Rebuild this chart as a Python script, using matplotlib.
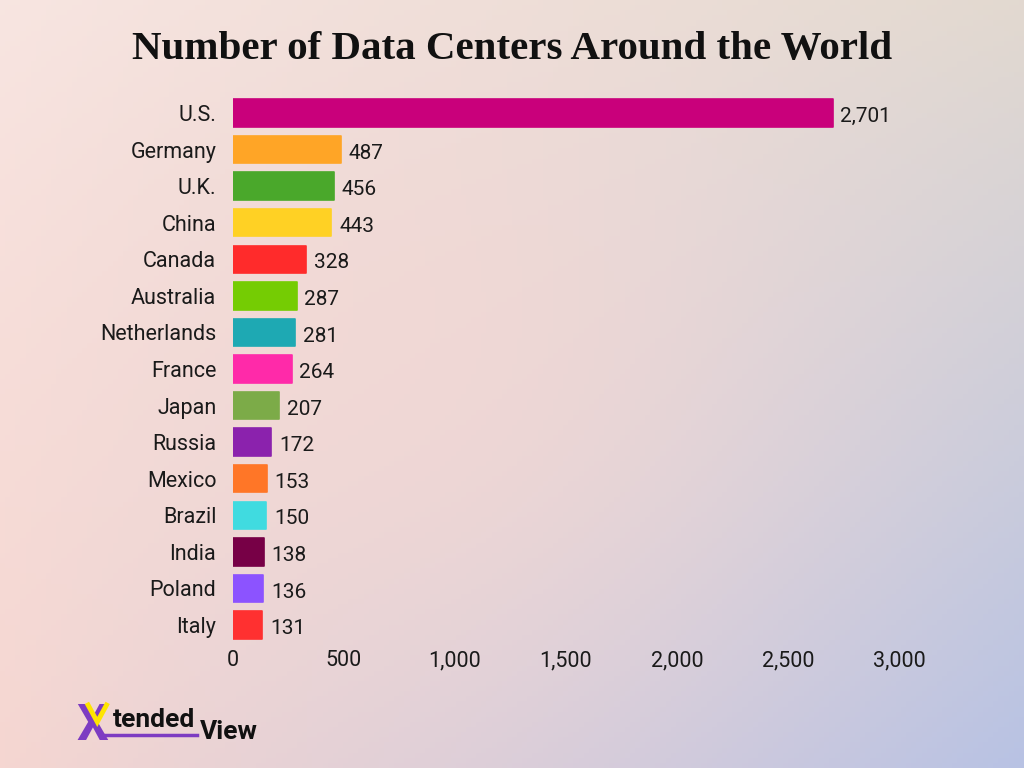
import numpy as np
import matplotlib.pyplot as plt
from matplotlib.colors import to_rgb
from matplotlib.ticker import FuncFormatter

# data
countries = ['U.S.', 'Germany', 'U.K.', 'China', 'Canada', 'Australia', 'Netherlands',
             'France', 'Japan', 'Russia', 'Mexico', 'Brazil', 'India', 'Poland', 'Italy']
centers = [2701, 487, 456, 443, 328, 287, 281, 264, 207, 172, 153, 150, 138, 136, 131]
bar_colors = ['#c9007b', '#ffa526', '#4aa82b', '#ffd124', '#ff2b2b', '#75cc03', '#1ea9b3',
              '#ff2aa9', '#7cab48', '#8b22ad', '#ff7627', '#40dbe0', '#770046', '#8c53ff', '#ff3030']
x_ticks = [0, 500, 1000, 1500, 2000, 2500, 3000]

plt.rcParams['font.family'] = ['Roboto', 'DejaVu Sans']

fig = plt.figure(figsize=(10.24, 7.68), dpi=100)

# soft gradient background (corner colours)
bg = fig.add_axes([0, 0, 1, 1], zorder=-10)
tl, tr = np.array(to_rgb('#f8e6e2')), np.array(to_rgb('#e2d9d0'))
bl, br = np.array(to_rgb('#f5d6d1')), np.array(to_rgb('#b7c2e4'))
u = np.linspace(0, 1, 200)[None, :, None]
v = np.linspace(0, 1, 150)[:, None, None]
top = tl * (1 - u) + tr * u
bottom = bl * (1 - u) + br * u
grad = top * (1 - v) + bottom * v
mid = np.array(to_rgb('#f7d8d2'))
w = np.exp(-(((u - 0.42) / 0.38) ** 2 + ((v - 0.5) / 0.45) ** 2))
grad = grad * (1 - 0.6 * w) + mid * 0.6 * w
bg.imshow(grad, aspect='auto', extent=[0, 1, 0, 1])
bg.axis('off')
bg.set_xlim(0, 1)
bg.set_ylim(0, 1)

ax = fig.add_axes([0.2275, 0.1624, 0.6504, 0.7143])
ax.patch.set_alpha(0)
y = np.arange(len(countries))
ax.barh(y, centers, height=0.75, color=bar_colors, edgecolor=bar_colors,
        linewidth=1.2, joinstyle='round')
ax.set_ylim(len(countries) - 0.5, -0.5)
ax.set_xlim(0, 3000)
ax.set_yticks(y)
ax.set_yticklabels(countries, fontsize=15.5, color='#1a1a1a')
ax.set_xticks(x_ticks)
ax.xaxis.set_major_formatter(FuncFormatter(lambda val, pos: f'{int(val):,}'))
ax.tick_params(axis='x', labelsize=15.5, colors='#1a1a1a', length=0, pad=5)
ax.tick_params(axis='y', length=0, pad=12)
for s in ax.spines.values():
    s.set_visible(False)

for yi, val in zip(y, centers):
    ax.text(val + 35, yi + 0.1, f'{val:,}', va='center', ha='left', fontsize=15, color='#1a1a1a')

fig.text(0.5, 0.935, 'Number of Data Centers Around the World', ha='center', va='center',
         fontsize=29.5, fontweight='bold', family=['Liberation Serif', 'DejaVu Serif'], color='#111111')

# logo
fig.text(0.075, 0.036, 'X', fontsize=36, fontweight='bold', color='#7d3cc2', va='baseline', zorder=5)
fig.add_artist(plt.Line2D([0.086, 0.095, 0.104], [0.082, 0.060, 0.082], color='#ffe500', lw=3.5,
                          solid_joinstyle='miter', zorder=6))
fig.text(0.110, 0.054, 'tended', fontsize=19, fontweight='bold', color='#111111', va='baseline')
fig.text(0.195, 0.038, 'View', fontsize=19, fontweight='bold', color='#111111', va='baseline')
fig.add_artist(plt.Line2D([0.1, 0.192], [0.043, 0.043], color='#7d3cc2', lw=2.5))

fig.savefig('out.png', dpi=100)
